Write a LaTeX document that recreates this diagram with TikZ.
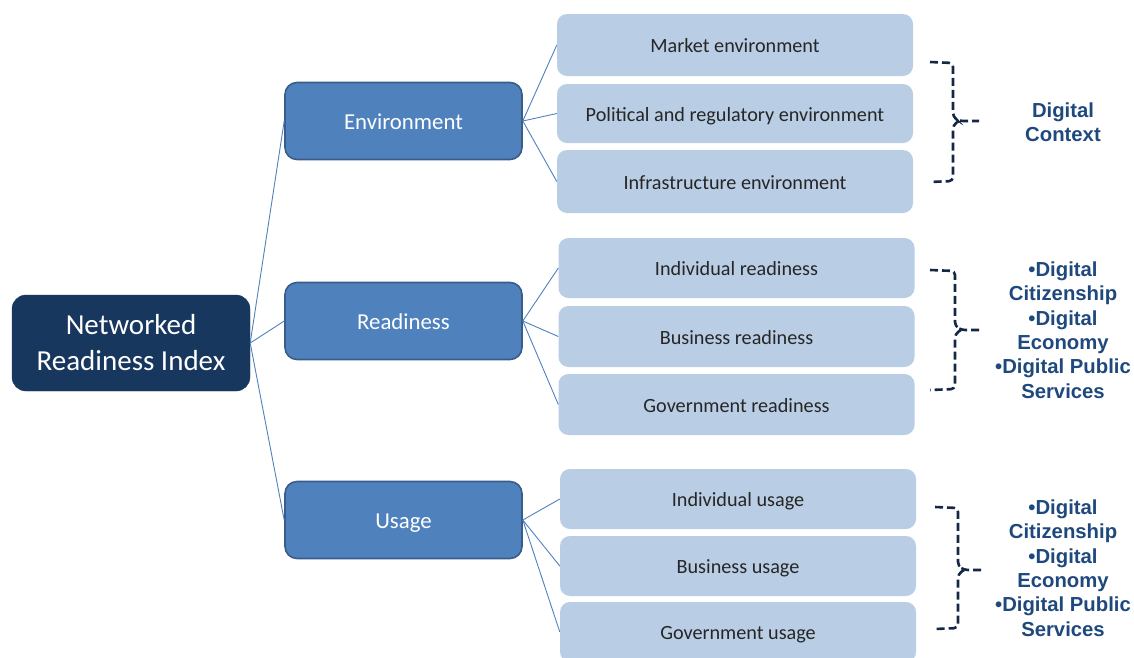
\documentclass[tikz,border=0pt]{standalone}
\usepackage{fontspec}
\setmainfont{Carlito}
\newfontfamily\arialb{Liberation Sans}[BoldFont={Liberation Sans Bold}]
\definecolor{rootc}{RGB}{23,55,94}
\definecolor{midc}{RGB}{79,129,189}
\definecolor{midb}{RGB}{56,93,138}
\definecolor{leafc}{RGB}{185,205,229}
\definecolor{labc}{RGB}{31,73,125}
\definecolor{brc}{RGB}{20,40,70}
\tikzset{
  rootbox/.style={draw=rootc, fill=rootc, rounded corners=14pt, text=white, align=center, font=\fontsize{29}{36}\selectfont, minimum width=238pt, minimum height=96pt, inner sep=0pt},
  midbox/.style={draw=midb, line width=1.6pt, fill=midc, rounded corners=12pt, text=white, font=\fontsize{22.8}{27}\selectfont, minimum width=237pt, minimum height=77pt, inner sep=0pt, text height=17pt, text depth=1pt},
  leafbox/.style={fill=leafc, rounded corners=10pt, text=black!85, font=\fontsize{20.2}{24}\selectfont, minimum width=356pt, inner sep=0pt, text height=16pt, text depth=1pt},
  conn/.style={draw=midc, line width=0.9pt},
  brace/.style={draw=brc, line width=2.6pt, dash pattern=on 8pt off 4pt, rounded corners=4pt},
  lab/.style={text=labc, align=center, font=\arialb\bfseries\fontsize{20.3}{24.4}\selectfont}
}
\begin{document}
\begin{tikzpicture}[x=1pt,y=-1pt]
\useasboundingbox (0,0) rectangle (1134,657);
\clip (0,0) rectangle (1134,657);
\node[rootbox] (root) at (131,343) {Networked\\Readiness Index};
\node[midbox] (env) at (403.5,121) {Environment};
\node[midbox] (rea) at (403.5,321) {Readiness};
\node[midbox] (use) at (403.5,520) {Usage};
\node[leafbox, minimum height=62pt] (l1) at (735,45) {Market environment};
\node[leafbox, minimum height=59pt] (l2) at (735,113.5) {Political and regulatory environment};
\node[leafbox, minimum height=63pt] (l3) at (735,181.5) {Infrastructure environment};
\node[leafbox, minimum height=60pt] (r1) at (736.5,268) {Individual readiness};
\node[leafbox, minimum height=61pt] (r2) at (736.5,336.5) {Business readiness};
\node[leafbox, minimum height=61pt] (r3) at (736.5,404.5) {Government readiness};
\node[leafbox, minimum height=60pt] (u1) at (738,499) {Individual usage};
\node[leafbox, minimum height=60pt] (u2) at (738,566) {Business usage};
\node[leafbox, minimum height=60pt] (u3) at (738,632) {Government usage};
\foreach \m in {env,rea,use} \draw[conn] (root.east) -- (\m.west);
\foreach \l in {l1,l2,l3} \draw[conn] (env.east) -- (\l.west);
\foreach \l in {r1,r2,r3} \draw[conn] (rea.east) -- (\l.west);
\foreach \l in {u1,u2,u3} \draw[conn] (use.east) -- (\l.west);
% braces
\draw[brace] (930,62) -- (953,63) -- (953,117) -- (959,121) -- (979,121);
\draw[brace] (959,121) -- (953,125) -- (953,181) -- (930,182);
\draw[brace] (930,270) -- (955,271) -- (955,326) -- (961,330) -- (979,330);
\draw[brace] (961,330) -- (955,334) -- (955,389) -- (930,390);
\draw[brace] (935,507) -- (958,508) -- (958,566) -- (964,570) -- (983,570);
\draw[brace] (964,570) -- (958,574) -- (958,628) -- (935,629);
\node[lab] (t1) at (1063,122) {Digital\\Context};
\node[lab] (t2) at (1063,330) {\textbullet Digital\\Citizenship\\\textbullet Digital\\Economy\\\textbullet Digital Public\\Services};
\node[lab] (t3) at (1063,568) {\textbullet Digital\\Citizenship\\\textbullet Digital\\Economy\\\textbullet Digital Public\\Services};
\end{tikzpicture}
\end{document}
